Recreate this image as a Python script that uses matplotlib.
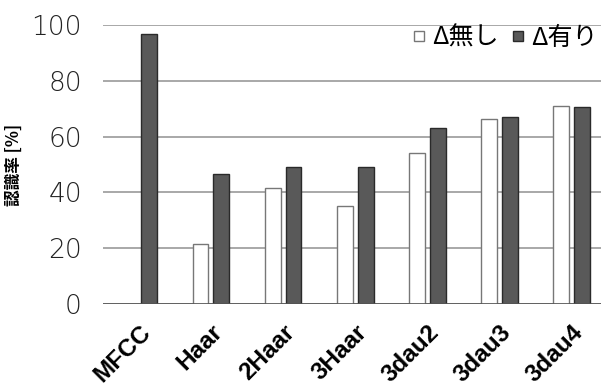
import matplotlib
matplotlib.use("Agg")
import matplotlib.pyplot as plt
import matplotlib.transforms as mtransforms
from matplotlib.lines import Line2D
import numpy as np

plt.rcParams['font.family'] = ['Noto Sans CJK JP', 'DejaVu Sans']

categories = ["MFCC", "Haar", "2Haar", "3Haar", "3dau2", "3dau3", "3dau4"]
without_delta = [0, 21.4, 41.7, 35.2, 54.0, 66.4, 70.9]
with_delta = [96.7, 46.6, 49.0, 49.0, 63.0, 66.9, 70.5]
series_labels = ["Δ無し", "Δ有り"]
yticks = [0, 20, 40, 60, 80, 100]

fig = plt.figure(figsize=(6.01, 3.85), dpi=100)
ax = fig.add_axes([0.171, 0.2104, 0.84, 0.7246])

x = np.arange(len(categories))
w = 0.22
off = 0.145
# MFCC has no "without" value, so skip the empty bar
mask = np.array(without_delta) > 0
ax.bar(x[mask] - off, np.array(without_delta)[mask], w, color="white",
       edgecolor="#777777", linewidth=1, zorder=3)
ax.bar(x + off, with_delta, w, color="#595959", edgecolor="#2a2a2a",
       linewidth=1, zorder=3)

ax.set_xlim(-0.5, len(categories) - 0.5)
ax.set_ylim(0, 100)
ax.set_yticks(yticks)
ax.set_yticklabels([str(v) for v in yticks], fontsize=19, color="#222222",
                   family="DejaVu Sans", fontweight="light")
ax.yaxis.grid(True, color="#9a9a9a", linewidth=1.2, zorder=0)
ax.axhline(0, color="#555555", linewidth=1.2, zorder=4)
for s in ax.spines.values():
    s.set_visible(False)
ax.tick_params(axis="both", length=0)
ax.tick_params(axis="y", pad=15)

ax.set_xticks(x)
ax.set_xticklabels(categories, rotation=45, ha="right", va="top",
                   rotation_mode="anchor", fontsize=17.5, fontweight="bold",
                   family="Liberation Sans")
shift = mtransforms.ScaledTranslation(5 / 72, 0, fig.dpi_scale_trans)
for lbl in ax.get_xticklabels():
    lbl.set_transform(lbl.get_transform() + shift)
ax.tick_params(axis="x", pad=12)

ax.set_ylabel("認識率 [%]", fontsize=12, fontweight="bold", labelpad=6)

handles = [
    Line2D([], [], linestyle="none", marker="s", markersize=7.5,
           markerfacecolor="white", markeredgecolor="#777777", markeredgewidth=1),
    Line2D([], [], linestyle="none", marker="s", markersize=7.5,
           markerfacecolor="#595959", markeredgecolor="#2a2a2a", markeredgewidth=1),
]
leg = ax.legend(handles, series_labels, loc="upper right",
                bbox_to_anchor=(0.981, 1.0), ncol=2, frameon=False,
                fontsize=18, handlelength=0.5, handletextpad=0.3,
                columnspacing=0.5, borderaxespad=0, borderpad=0)

fig.savefig("out.png", dpi=100)
